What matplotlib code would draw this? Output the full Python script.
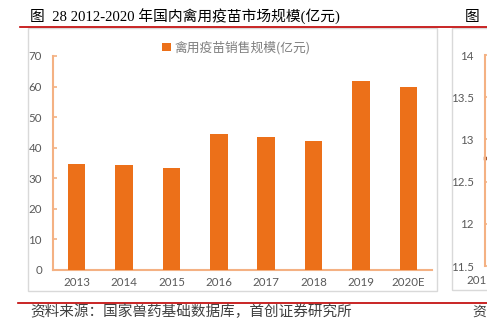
import matplotlib
matplotlib.use("Agg")
import matplotlib.pyplot as plt
from matplotlib.patches import Rectangle
from matplotlib.lines import Line2D

categories = ["2013", "2014", "2015", "2016", "2017", "2018", "2019", "2020E"]
values = [34.7, 34.2, 33.5, 44.4, 43.6, 42.3, 61.8, 59.9]
yticks = [0, 10, 20, 30, 40, 50, 60, 70]
legend_label = "禽用疫苗销售规模(亿元)"
title = "图  28 2012-2020 年国内禽用疫苗市场规模(亿元)"
source = "资料来源：国家兽药基础数据库，首创证券研究所"
right_yticks = [11.5, 12, 12.5, 13, 13.5, 14]
right_point = [12.78]

W, H = 487, 325
fig = plt.figure(figsize=(W / 100, H / 100), dpi=100)
fig.patch.set_facecolor("white")

def fx(px):
    return px / W

def fy(py):
    return 1 - py / H

bar_color = "#EC7019"
axis_color = "#F4B183"
tick_color = "#595959"
cjk = ["Noto Sans CJK SC", "DejaVu Sans"]
num_font = ["Lato", "Noto Sans CJK SC"]
tick_size = 8.3

# panel borders
fig.add_artist(Rectangle((fx(28), fy(291)), fx(437) - fx(28), fy(28) - fy(291),
                         transform=fig.transFigure, fill=False, edgecolor="#D9D9D9", lw=1))
fig.add_artist(Rectangle((fx(452), fy(290)), fx(500) - fx(452), fy(28) - fy(290),
                         transform=fig.transFigure, fill=False, edgecolor="#D9D9D9", lw=1))

# red lines
fig.add_artist(Line2D([fx(20), fx(487)], [fy(27), fy(27)], transform=fig.transFigure,
                      color="#C00000", lw=1.2))
fig.add_artist(Line2D([fx(18), fx(487)], [fy(302.5), fy(302.5)], transform=fig.transFigure,
                      color="#C00000", lw=1.2))

# title & source
fig.text(fx(30), fy(17), title, fontsize=10.6, family=["Liberation Serif", "Noto Sans CJK SC"],
         color="black", va="center", ha="left")
fig.text(fx(465), fy(17), "图", fontsize=10.6, family=["Liberation Serif", "Noto Sans CJK SC"],
         color="black", va="center", ha="left")
fig.text(fx(30), fy(312), source, fontsize=10.5, family=cjk, style="italic",
         color="#404040", va="center", ha="left")
fig.text(fx(472), fy(312), "资", fontsize=10, family=cjk, style="italic",
         color="#404040", va="center", ha="left")

# main axes
ax = fig.add_axes([fx(53), fy(270), fx(432) - fx(53), fy(56) - fy(270)])
x = list(range(len(categories)))
ax.bar(x, values, width=0.37, color=bar_color, label=legend_label, zorder=3)
ax.set_xlim(-0.5, len(categories) - 0.5)
ax.set_ylim(0, 70)
ax.set_yticks(yticks)
ax.set_yticklabels([str(v) for v in yticks], family=num_font, fontsize=tick_size, color=tick_color)
ax.set_xticks(x)
ax.set_xticklabels(categories, family=num_font, fontsize=tick_size, color=tick_color)
ax.tick_params(axis="y", direction="in", length=3, color=axis_color, width=1.2, pad=8)
ax.tick_params(axis="x", length=0, pad=5)
for s in ["top", "right"]:
    ax.spines[s].set_visible(False)
ax.spines["left"].set_color(axis_color)
ax.spines["left"].set_linewidth(1.5)
ax.spines["bottom"].set_color(axis_color)
ax.spines["bottom"].set_linewidth(1.5)
ax.patch.set_alpha(0)
leg = ax.legend(loc="upper center", frameon=False,
                prop={"family": cjk, "size": 9.2}, handlelength=0.7, handleheight=0.7,
                handletextpad=0.3, borderpad=0, borderaxespad=0)
leg.set_bbox_to_anchor((fx(236), fy(41)), transform=fig.transFigure)
for t in leg.get_texts():
    t.set_color("#7F7F7F")

# partial right axes
ax2 = fig.add_axes([fx(485), fy(266), 0.2, fy(55) - fy(266)])
ax2.set_ylim(11.5, 14)
ax2.set_xlim(0, 1)
ax2.plot([0, 0.02], [right_point[0], right_point[0]], color="#A0522D", lw=2.5, clip_on=False)
ax2.set_yticks(right_yticks)
ax2.set_yticklabels([f"{v:g}" for v in right_yticks], family=num_font, fontsize=tick_size, color=tick_color)
ax2.tick_params(axis="y", direction="in", length=3, color=axis_color, width=1.2, pad=8)
ax2.set_xticks([])
for s in ["top", "right", "bottom"]:
    ax2.spines[s].set_visible(False)
ax2.spines["left"].set_color(axis_color)
ax2.spines["left"].set_linewidth(1.5)
ax2.patch.set_alpha(0)
fig.text(fx(466), fy(281), "201", family=num_font, fontsize=tick_size, color=tick_color,
         va="center", ha="left")

fig.savefig("out.png", dpi=100)
